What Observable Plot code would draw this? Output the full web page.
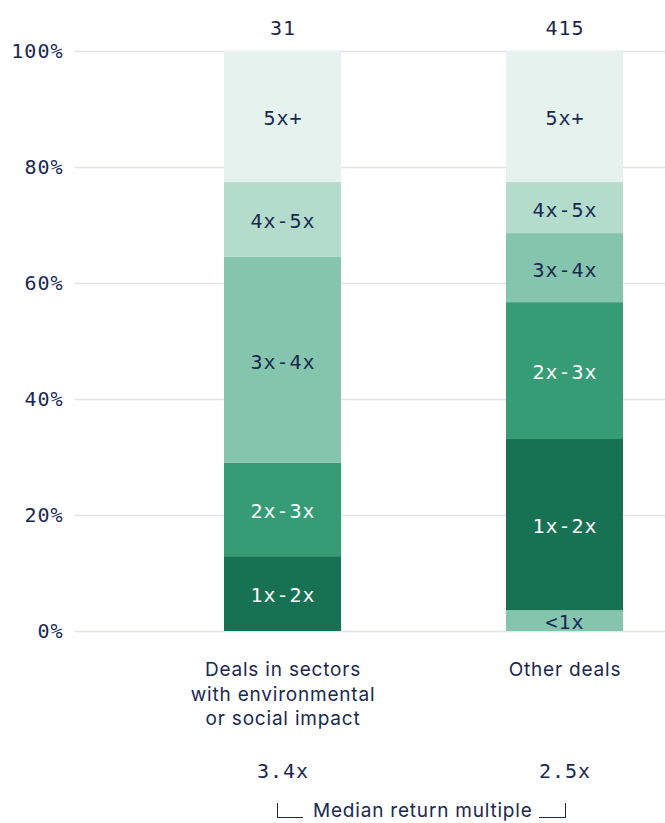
<!DOCTYPE html>
<html>
<head>
<meta charset="utf-8">
<script src="https://cdn.jsdelivr.net/npm/d3@7"></script>
<script src="https://cdn.jsdelivr.net/npm/@observablehq/plot@0.6"></script>
<style>
  html, body { margin: 0; padding: 0; background: #fff; }
  #chart svg { letter-spacing: 1px; }
  #chart svg [font-family="Inter"] { letter-spacing: 0.8px; }
  .bracket-row { position: relative; height: 28px; font-family: Inter, sans-serif; font-size: 19px; letter-spacing: 0.8px; color: #1a2850; }
  .bracket-row .bl { position: absolute; left: 277px; top: 8px; width: 26px; height: 15px; border-left: 1.5px solid #1a2850; border-bottom: 1.5px solid #1a2850; box-sizing: border-box; }
  .bracket-row .br { position: absolute; left: 539px; top: 8px; width: 27px; height: 15px; border-right: 1.5px solid #1a2850; border-bottom: 1.5px solid #1a2850; box-sizing: border-box; }
  .bracket-row .lbl { position: absolute; left: 313px; top: 6px; line-height: 19px; white-space: nowrap; }
</style>
</head>
<body>
<div id="chart"></div>
<script>
const categories = ["impact", "other"];
const categoryLabels = ["Deals in sectors\nwith environmental\nor social impact", "Other deals"];
const buckets = ["<1x", "1x-2x", "2x-3x", "3x-4x", "4x-5x", "5x+"];
const impactShares = [0, 12.9, 16.1, 35.5, 12.9, 22.6];
const otherShares = [3.6, 29.5, 23.6, 11.9, 8.8, 22.6];
const dealCounts = [31, 415];
const medianMultiples = ["3.4x", "2.5x"];
const yTicks = [0, 20, 40, 60, 80, 100];

const bucketColors = ["#85c4ad", "#177254", "#359c76", "#85c4ad", "#b3dccd", "#e5f2ed"];
const bucketText = ["#1a2850", "#ffffff", "#ffffff", "#1a2850", "#1a2850", "#1a2850"];
const navy = "#1a2850";

const rows = [];
[impactShares, otherShares].forEach((shares, ci) => {
  shares.forEach((v, bi) => {
    if (v > 0) rows.push({cat: categories[ci], bucket: buckets[bi], share: v, bi});
  });
});
const catRows = categories.map((c, i) => ({cat: c, label: categoryLabels[i], count: dealCounts[i], median: medianMultiples[i]}));

const plot = Plot.plot({
  width: 665,
  height: 795,
  marginLeft: 74,
  marginRight: 0,
  marginTop: 51,
  marginBottom: 164,
  style: {fontFamily: "DejaVu Sans Mono", fontSize: "20px", color: navy, background: "#fff"},
  x: {domain: categories, paddingInner: 0.5866, paddingOuter: 0.3375, align: 0.78, axis: null},
  y: {domain: [0, 100], label: null, axis: null},
  color: {domain: buckets, range: bucketColors},
  marks: [
    Plot.gridY(yTicks, {stroke: "#e4e4ec", strokeOpacity: 1, strokeWidth: 1.5}),
    Plot.axisY(yTicks, {tickSize: 0, tickPadding: 11, tickFormat: d => d + "%", fontSize: 20, fill: navy, fontFamily: "DejaVu Sans Mono"}),
    Plot.barY(rows, {x: "cat", y: "share", fill: "bucket", order: buckets}),
    Plot.text(rows, Plot.stackY({x: "cat", y: "share", text: "bucket", order: buckets, fill: d => bucketText[d.bi], fontSize: 20, fontFamily: "DejaVu Sans Mono", dy: 2})),
    Plot.text(catRows, {x: "cat", y: 100, text: d => String(d.count), dy: -23, fill: navy, fontSize: 20, fontFamily: "DejaVu Sans Mono"}),
    Plot.text(catRows, {x: "cat", y: 0, text: "label", lineAnchor: "top", dy: 27, lineHeight: 1.3, fill: navy, fontSize: 19, fontFamily: "Inter"}),
    Plot.text(catRows, {x: "cat", y: 0, text: "median", dy: 140, fill: navy, fontSize: 20, fontFamily: "DejaVu Sans Mono"})
  ]
});
document.getElementById("chart").appendChild(plot);

const row = document.createElement("div");
row.className = "bracket-row";
row.innerHTML = '<div class="bl"></div><div class="lbl">Median return multiple</div><div class="br"></div>';
document.body.appendChild(row);
</script>
</body>
</html>
